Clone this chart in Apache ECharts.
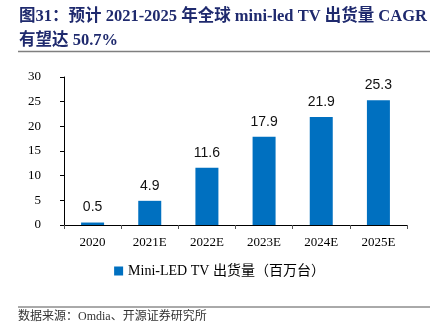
<!DOCTYPE html>
<html><head><meta charset="utf-8">
<script src="https://cdn.jsdelivr.net/npm/echarts@6/dist/echarts.min.js"></script>
<style>html,body{margin:0;padding:0;background:#fff}#c{width:439px;height:332px}</style>
</head><body><div id="c"></div>
<script>
const categories = ['2020', '2021E', '2022E', '2023E', '2024E', '2025E'];
const shipments = [0.5, 4.9, 11.6, 17.9, 21.9, 25.3];
const seriesName = 'Mini-LED TV 出货量（百万台）';
const titleText = '图31：预计 2021-2025 年全球 mini-led TV 出货量 CAGR\n有望达 50.7%';
const sourceText = '数据来源：Omdia、开源证券研究所';

const serif = '"Liberation Serif","Times New Roman","Noto Sans CJK SC",serif';
const chart = echarts.init(document.getElementById('c'));
chart.setOption({
  animation: false,
  title: {
    text: titleText, left: 14, top: 0,
    textStyle: { fontFamily: serif, fontSize: 16.5, fontWeight: 'bold', color: '#1F2A6E', lineHeight: 24 }
  },
  graphic: [
    { type: 'line', shape: { x1: 18, y1: 51.5, x2: 430, y2: 51.5 }, style: { stroke: '#7f7f7f', lineWidth: 1.5 } },
    { type: 'line', shape: { x1: 18, y1: 307, x2: 430, y2: 307 }, style: { stroke: '#555', lineWidth: 1 } },
    { type: 'text', left: 18, top: 311, style: { text: sourceText, font: '12px ' + serif, fill: '#333' } }
  ],
  legend: {
    data: [seriesName], left: 'center', top: 259, itemWidth: 9, itemHeight: 9, itemGap: 3,
    icon: 'rect', textStyle: { fontFamily: serif, fontSize: 14, color: '#000' }
  },
  grid: { left: 64, right: 32, top: 77, bottom: 107 },
  xAxis: {
    type: 'category', data: categories,
    axisLine: { lineStyle: { color: '#000' } },
    axisTick: { show: true, alignWithLabel: false, length: 4, lineStyle: { color: '#555' } },
    axisLabel: { fontFamily: serif, fontSize: 13, color: '#000', margin: 11 }
  },
  yAxis: {
    type: 'value', min: 0, max: 30, interval: 5,
    axisLine: { show: true, lineStyle: { color: '#000' } },
    axisTick: { show: true, length: 4, lineStyle: { color: '#000' } },
    splitLine: { show: false },
    axisLabel: { fontFamily: serif, fontSize: 13, color: '#000', margin: 23 }
  },
  series: [{
    name: seriesName, type: 'bar', data: shipments, barWidth: 23,
    itemStyle: { color: '#0070C0' },
    label: { show: true, position: 'top', distance: 8, fontFamily: '"Liberation Sans",Arial,sans-serif', fontSize: 14, color: '#111' }
  }]
});
</script></body></html>
